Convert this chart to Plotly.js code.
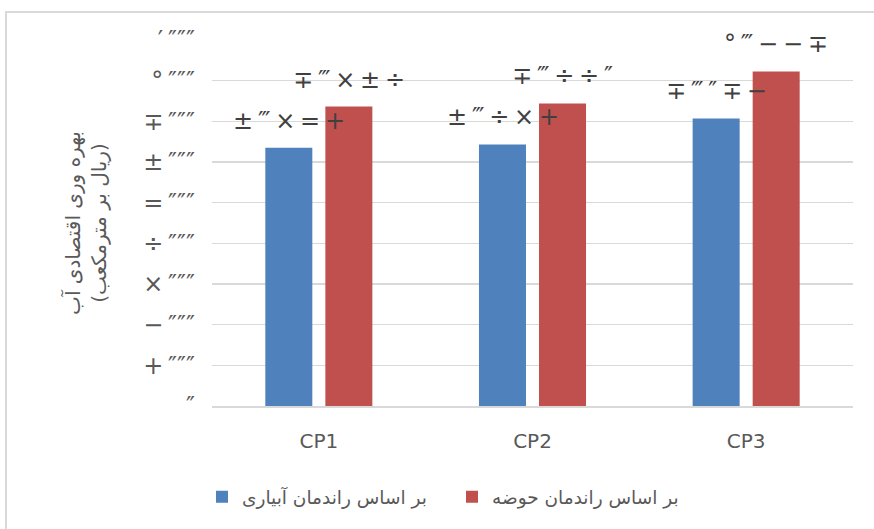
<!DOCTYPE html>
<html>
<head>
<meta charset="utf-8">
<script src="https://cdn.plot.ly/plotly-3.0.1.min.js"></script>
<style>
  html, body { margin: 0; padding: 0; background: #ffffff; }
  #frame { position: absolute; left: 5px; top: 11px; width: 900px; height: 600px; border: 2px solid #d9d9d9; box-sizing: border-box; }
  #chart { position: absolute; left: 0; top: 0; width: 874px; height: 529px; }
</style>
</head>
<body>
<div id="frame"></div>
<div id="chart"></div>
<script>
// ---- data ----
const categories = ["CP1", "CP2", "CP3"];
const seriesNames = ["بر اساس راندمان آبیاری", "بر اساس راندمان حوضه"];
const irrigationValues = [6351, 6431, 7072];
const basinValues = [7364, 7440, 8227];
const tickValues = [0, 1000, 2000, 3000, 4000, 5000, 6000, 7000, 8000, 9000];
const yTitle = "بهره وری اقتصادی آب<br>(ریال بر مترمکعب)";

// glyphs as they appear in the reference (digits drawn with a symbol font)
const digitGlyphs = ["″", "+", "−", "×", "÷", "=", "±", "∓", "°", "′"];
const groupGlyph = "‴";

function tickGlyph(v) {
  const s = String(v).split("").map(d => digitGlyphs[+d]);
  return s.length > 1 ? s[0] + "\u2009" + s.slice(1).join("") : s[0];
}
function labelGlyph(v) {
  const s = v.toLocaleString("en-US");
  return s.split("").map(c => c === "," ? groupGlyph : digitGlyphs[+c]).join("\u2009");
}

const blue = "#4F81BD";
const red = "#C0504D";
const grey = "#595959";

const traces = [
  { type: "bar", name: seriesNames[0], x: categories, y: irrigationValues, marker: { color: blue } },
  { type: "bar", name: seriesNames[1], x: categories, y: basinValues, marker: { color: red } }
];

const annotations = [];
[irrigationValues, basinValues].forEach((vals, si) => {
  vals.forEach((v, i) => {
    annotations.push({
      x: categories[i], y: v, xref: "x", yref: "y",
      text: labelGlyph(v), showarrow: false,
      xshift: si === 0 ? -30 : 30, yshift: 27,
      font: { family: "DejaVu Sans", size: 24, color: "#404040" }
    });
  });
});

const layout = {
  width: 874, height: 529,
  paper_bgcolor: "rgba(0,0,0,0)",
  plot_bgcolor: "rgba(0,0,0,0)",
  margin: { l: 212, r: 21, t: 40, b: 123 },
  barmode: "group",
  bargap: 0.438,
  bargroupgap: 0.217,
  font: { family: "DejaVu Sans", color: grey },
  xaxis: {
    type: "category",
    showgrid: false,
    showline: true, linecolor: "#d9d9d9", linewidth: 2,
    ticks: "",
    ticklabelstandoff: 16,
    tickfont: { family: "DejaVu Sans", size: 20, color: grey }
  },
  yaxis: {
    range: [0, 9000],
    tickvals: tickValues,
    ticktext: tickValues.map(tickGlyph),
    showgrid: true, gridcolor: "#d9d9d9", gridwidth: 1.5,
    zeroline: false,
    showline: false,
    ticks: "",
    ticklabelstandoff: 16,
    tickfont: { family: "DejaVu Sans", size: 24, color: grey },
    title: { text: yTitle, font: { family: "DejaVu Sans", size: 20, color: grey }, standoff: 31 }
  },
  showlegend: true,
  legend: {
    orientation: "h",
    x: -0.0156, xanchor: "left",
    y: -0.249, yanchor: "middle",
    entrywidth: 205,
    font: { family: "DejaVu Sans", size: 18.5, color: grey },
    traceorder: "normal"
  },
  annotations: annotations
};

Plotly.newPlot("chart", traces, layout, { displayModeBar: false, staticPlot: true });
</script>
</body>
</html>
